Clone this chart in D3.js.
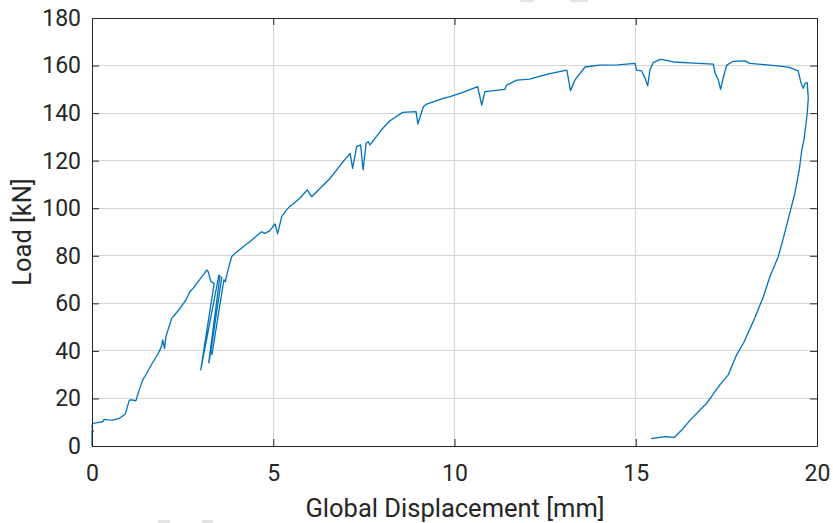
<!DOCTYPE html>
<html>
<head>
<meta charset="utf-8">
<script src="https://cdn.jsdelivr.net/npm/d3@7"></script>
<style>
  html, body { margin: 0; padding: 0; background: #fff; }
  svg { display: block; font-family: Roboto, "Liberation Sans", sans-serif; }
</style>
</head>
<body>
<svg id="chart" width="833" height="523"></svg>
<script>
// ---- data ----
const xTicks = [0, 5, 10, 15, 20];
const yTicks = [0, 20, 40, 60, 80, 100, 120, 140, 160, 180];
const xLabel = "Global Displacement [mm]";
const yLabel = "Load [kN]";

const displacement = [
  0.00, 0.00, 0.03, 0.00, 0.02, 0.15, 0.29, 0.34, 0.45, 0.57, 0.75, 0.92, 1.03, 1.10, 1.21, 1.30,
  1.40, 1.51, 1.65, 1.83, 1.92, 1.95, 1.98, 2.00, 2.04, 2.08, 2.20, 2.30, 2.41, 2.50, 2.59, 2.70,
  2.80, 2.89, 3.03, 3.10, 3.16, 3.20, 3.23, 3.28, 3.37,
  3.00, 3.50, 3.53, 3.22, 3.25, 3.58, 3.28, 3.31, 3.64, 3.68, 3.72,
  3.85, 3.94, 4.17, 4.41, 4.55, 4.68, 4.77, 4.90, 5.05, 5.12, 5.23, 5.35, 5.46, 5.55, 5.75,
  5.94, 6.06, 6.30, 6.57, 6.89, 7.12, 7.19, 7.30, 7.41, 7.48, 7.56, 7.62, 7.67, 7.99, 8.22,
  8.57, 8.94, 8.99, 9.14, 9.23, 9.69, 9.88, 10.25, 10.64, 10.75, 10.84, 11.39, 11.44, 11.72,
  12.07, 12.60, 13.10, 13.20, 13.32, 13.60, 14.00, 14.50, 14.98, 15.02, 15.16, 15.26, 15.33,
  15.39, 15.48, 15.67, 15.81, 16.04, 16.60, 17.14, 17.19, 17.28, 17.34, 17.42, 17.51, 17.69,
  18.01, 18.15, 18.98, 19.24, 19.48, 19.55, 19.62, 19.67, 19.73, 19.76, 19.74, 19.72, 19.64,
  19.58, 19.51, 19.39, 19.27, 19.07, 18.93, 18.70, 18.52, 18.24, 17.97, 17.78, 17.55, 17.32,
  16.96, 16.86, 16.50, 16.27, 16.06, 15.81, 15.42
];
const load = [
  0.0, 6.7, 6.0, 8.0, 9.5, 9.8, 10.2, 11.2, 11.0, 10.9, 11.6, 13.5, 19.3, 19.4, 19.0, 23.5,
  27.8, 30.6, 34.5, 39.0, 42.0, 44.6, 42.5, 41.0, 46.0, 48.0, 53.7, 55.5, 57.5, 59.5, 61.4, 64.9,
  66.5, 68.4, 71.2, 72.5, 74.0, 73.5, 71.9, 69.1, 68.4,
  32.0, 71.9, 71.5, 35.0, 37.0, 71.0, 40.0, 38.5, 70.0, 69.1, 72.0,
  79.6, 81.0, 83.8, 86.6, 88.5, 90.1, 89.4, 90.5, 93.4, 89.2, 96.4, 99.0, 100.9, 101.8, 104.5,
  107.7, 104.8, 108.5, 112.6, 118.9, 123.1, 116.8, 125.9, 126.6, 116.1, 127.3, 128.0, 126.6, 133.1, 136.8,
  140.3, 140.6, 135.4, 142.7, 143.8, 146.2, 146.9, 148.8, 151.1, 143.4, 149.0, 150.0, 151.8, 153.9,
  154.3, 156.5, 158.1, 149.4, 153.9, 159.4, 160.2, 160.3, 160.9, 158.1, 157.8, 154.6, 151.4,
  158.1, 161.2, 162.6, 162.3, 161.5, 161.0, 160.6, 156.7, 153.9, 150.0, 155.3, 160.2, 161.8,
  162.0, 160.9, 159.8, 159.2, 157.8, 153.2, 150.4, 152.5, 152.8, 146.2, 142.0, 138.5, 128.7,
  124.5, 116.1, 106.3, 99.2, 87.3, 79.6, 71.2, 62.8, 52.3, 43.2, 38.3, 29.9, 25.7,
  18.0, 16.5, 10.9, 6.7, 3.6, 3.9, 3.1
];

// ---- layout ----
const svg = d3.select("#chart");
const L = 92, R = 817, T = 18, B = 446;
const x = d3.scaleLinear().domain([0, 20]).range([L, R]);
const y = d3.scaleLinear().domain([0, 180]).range([B, T]);
const axisColor = "#262626";

// faint artifacts at the edges
[[520, 0, 14, 2], [570, 0, 18, 2], [158, 520, 12, 3], [202, 520, 11, 3]].forEach(r => {
  svg.append("rect").attr("x", r[0]).attr("y", r[1]).attr("width", r[2]).attr("height", r[3]).attr("fill", "#e4e4e4");
});

// grid
const grid = svg.append("g");
grid.selectAll(".gx").data(xTicks.slice(1, -1)).enter().append("line")
  .attr("x1", d => x(d)).attr("x2", d => x(d)).attr("y1", T).attr("y2", B)
  .attr("stroke", "#d6d6d6").attr("stroke-width", 1).attr("shape-rendering", "crispEdges");
grid.selectAll(".gy").data(yTicks.slice(1, -1)).enter().append("line")
  .attr("x1", L).attr("x2", R).attr("y1", d => y(d)).attr("y2", d => y(d))
  .attr("stroke", "#d6d6d6").attr("stroke-width", 1).attr("shape-rendering", "crispEdges");

// data line
const pts = displacement.map((d, i) => [d, load[i]]);
svg.append("path").datum(pts)
  .attr("fill", "none").attr("stroke", "#0072BD").attr("stroke-width", 1.3)
  .attr("stroke-linejoin", "round")
  .attr("d", d3.line().x(d => x(d[0])).y(d => y(d[1])));

// axes (MATLAB style, ticks inward, box)
const tickLen = 7;
const axBottom = svg.append("g").attr("transform", `translate(0,${B})`)
  .call(d3.axisBottom(x).tickValues(xTicks).tickSizeInner(-tickLen).tickSizeOuter(0).tickPadding(19).tickFormat(d3.format("d")));
const axLeft = svg.append("g").attr("transform", `translate(${L},0)`)
  .call(d3.axisLeft(y).tickValues(yTicks).tickSizeInner(-tickLen).tickSizeOuter(0).tickPadding(11).tickFormat(d3.format("d")));
const axTop = svg.append("g").attr("transform", `translate(0,${T})`)
  .call(d3.axisTop(x).tickValues(xTicks).tickSizeInner(-tickLen).tickSizeOuter(0).tickFormat(""));
const axRight = svg.append("g").attr("transform", `translate(${R},0)`)
  .call(d3.axisRight(y).tickValues(yTicks).tickSizeInner(-tickLen).tickSizeOuter(0).tickFormat(""));

[axBottom, axLeft, axTop, axRight].forEach(g => {
  g.select(".domain").attr("stroke", axisColor).attr("stroke-width", 1);
  g.selectAll(".tick line").attr("stroke", axisColor).attr("stroke-width", 1);
  g.selectAll(".tick text").attr("fill", axisColor).style("font-size", "23px").style("font-family", "Roboto, sans-serif");
});
axBottom.selectAll(".tick text").attr("dy", "0.71em");

// axis titles
svg.append("text").attr("x", 455).attr("y", 517)
  .attr("text-anchor", "middle").attr("fill", axisColor)
  .style("font-size", "25.5px").text(xLabel);
svg.append("text").attr("transform", `translate(31,232) rotate(-90)`)
  .attr("text-anchor", "middle").attr("fill", axisColor)
  .style("font-size", "25.5px").text(yLabel);
</script>
</body>
</html>
